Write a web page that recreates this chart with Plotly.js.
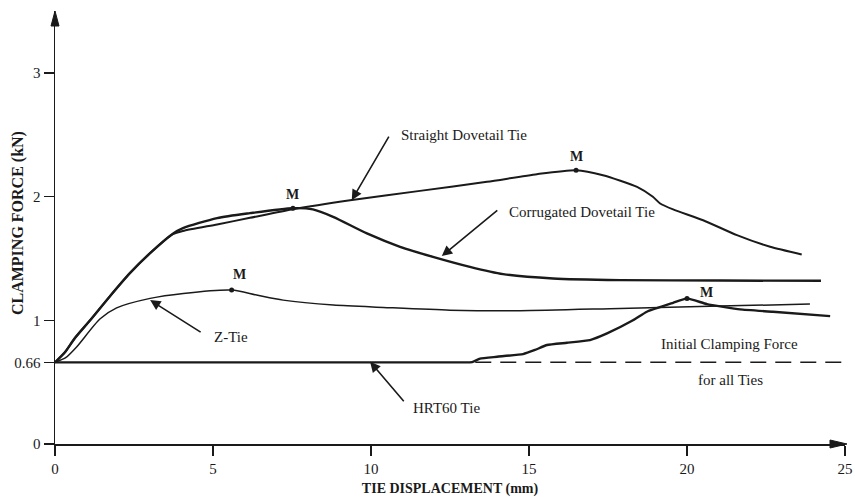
<!DOCTYPE html>
<html>
<head>
<meta charset="utf-8">
<script src="https://cdn.plot.ly/plotly-3.0.1.min.js"></script>
<style>
  html, body { margin: 0; padding: 0; background: #fff; }
  #chart { width: 855px; height: 497px; }
</style>
</head>
<body>
<div id="chart"></div>
<script>
// Clamping force (kN) against tie displacement (mm) for four tie types.
const xTickVals = [0, 5, 10, 15, 20, 25];
const yTickVals = [0, 0.66, 1, 2, 3];
const yTickText = ['0', '0.66', '1', '2', '3'];

const straightX = [0, 0.32, 0.63, 1.11, 1.74, 2.37, 3.01, 3.73, 4.05, 5.13, 6.17, 7.53, 9.34, 11.55, 13.67, 15.25, 16.49, 17.34, 18.42, 18.92, 19.15, 19.56, 20.51, 21.58, 22.63, 23.63];
const straightY = [0.66, 0.743, 0.856, 1.00, 1.195, 1.381, 1.543, 1.696, 1.722, 1.775, 1.828, 1.898, 1.971, 2.046, 2.119, 2.181, 2.213, 2.173, 2.078, 1.998, 1.944, 1.896, 1.809, 1.688, 1.594, 1.532];

const corrugatedX = [0, 0.32, 0.63, 1.11, 1.74, 2.37, 3.01, 3.73, 4.05, 5.13, 6.17, 7.53, 8.16, 8.80, 9.87, 10.92, 11.96, 13.13, 14.18, 15.76, 17.88, 21.04, 24.24];
const corrugatedY = [0.66, 0.743, 0.856, 1.00, 1.195, 1.381, 1.543, 1.700, 1.745, 1.826, 1.866, 1.906, 1.896, 1.836, 1.702, 1.594, 1.513, 1.432, 1.373, 1.338, 1.325, 1.321, 1.319];

const zTieX = [0, 0.35, 0.69, 1.42, 1.95, 3.01, 4.06, 5.59, 6.38, 7.22, 8.81, 10.39, 12.5, 14.72, 17.88, 21.04, 23.89];
const zTieY = [0.66, 0.70, 0.786, 1.010, 1.100, 1.177, 1.217, 1.244, 1.204, 1.163, 1.123, 1.104, 1.082, 1.077, 1.096, 1.115, 1.131];

const hrtX = [0, 6.5, 12.9, 13.2, 13.45, 13.99, 14.81, 15.19, 15.57, 16.20, 16.93, 17.47, 18.29, 18.73, 19.56, 20.0, 20.63, 21.68, 22.72, 24.53];
const hrtY = [0.66, 0.66, 0.66, 0.662, 0.69, 0.705, 0.727, 0.76, 0.80, 0.818, 0.84, 0.894, 1.0, 1.069, 1.141, 1.177, 1.131, 1.088, 1.069, 1.034];

const initialX = [13.3, 25.2];
const initialY = [0.66, 0.66];

// Maximum ("M") points on each curve
const peakX = [7.53, 16.49, 5.59, 20.0];
const peakY = [1.906, 2.213, 1.244, 1.177];
const peakShiftX = [0, 0, 8, 19];
const peakShiftY = [14, 14, 16, 6];

const ink = '#1a1a1a';
const serif = "'Liberation Serif', 'Times New Roman', serif";

function curve(x, y, w, smooth) {
  return {
    x: x, y: y, type: 'scatter', mode: 'lines',
    line: { color: ink, width: w, shape: 'spline', smoothing: smooth },
    hoverinfo: 'skip', showlegend: false
  };
}

const traces = [
  curve(hrtX, hrtY, 2.4, 0.4),
  curve(zTieX, zTieY, 1.5, 0.7),
  curve(corrugatedX, corrugatedY, 2.4, 0.7),
  curve(straightX, straightY, 2, 0.6),
  {
    x: initialX, y: initialY, type: 'scatter', mode: 'lines',
    line: { color: ink, width: 1.5, dash: '16px,9px' },
    cliponaxis: false, hoverinfo: 'skip', showlegend: false
  },
  {
    x: peakX, y: peakY, type: 'scatter', mode: 'markers',
    marker: { color: ink, size: 5 },
    hoverinfo: 'skip', showlegend: false
  }
];

const annotations = [];

// "M" labels at the peak points
peakX.forEach(function (px, i) {
  annotations.push({
    x: px, y: peakY[i], xref: 'x', yref: 'y', text: 'M', showarrow: false,
    xshift: peakShiftX[i], yshift: peakShiftY[i],
    font: { family: serif, size: 14, color: ink, weight: 'bold' }
  });
});

// Curve names with pointer arrows
function label(text, x, y, anchor) {
  annotations.push({
    x: x, y: y, xref: 'x', yref: 'y', text: text, showarrow: false,
    xanchor: anchor, yanchor: 'middle',
    font: { family: serif, size: 15, color: ink }
  });
}
function pointer(x, y, ax, ay) {
  annotations.push({
    x: x, y: y, xref: 'x', yref: 'y', text: '', showarrow: true,
    ax: ax, ay: ay, arrowhead: 2, arrowsize: 1.3, arrowwidth: 1.6,
    arrowcolor: ink, standoff: 0
  });
}

label('Straight Dovetail Tie', 10.89, 2.496, 'left');
pointer(9.39, 1.971, 38, -65);
label('Corrugated Dovetail Tie', 14.30, 1.876, 'left');
pointer(12.24, 1.519, 57, -47);
label('Z-Tie', 4.97, 0.864, 'left');
pointer(3.01, 1.163, 52, 33);
label('HRT60 Tie', 11.27, 0.291, 'left');
pointer(9.97, 0.665, 35, 41);
label('Initial Clamping Force', 21.36, 0.808, 'center');
label('for all Ties', 21.39, 0.517, 'center');

// Vertical axis title
annotations.push({
  xref: 'paper', yref: 'paper', x: -0.047, y: 0.51, xanchor: 'center', yanchor: 'middle',
  text: 'CLAMPING FORCE (kN)', textangle: -90, showarrow: false,
  font: { family: serif, size: 16, color: ink, weight: 'bold' }
});

const layout = {
  width: 855, height: 497,
  margin: { l: 55, r: 10, t: 11, b: 53 },
  paper_bgcolor: '#fff', plot_bgcolor: '#fff',
  font: { family: serif, color: ink },
  xaxis: {
    range: [0, 25], tickvals: xTickVals, ticks: 'outside', ticklen: 10, tickwidth: 1.5,
    tickcolor: ink, showline: true, linecolor: ink, linewidth: 1.5,
    showgrid: false, zeroline: false,
    tickfont: { family: serif, size: 15, color: ink },
    title: { text: 'TIE DISPLACEMENT (mm)', standoff: 10,
             font: { family: serif, size: 14, color: ink, weight: 'bold' } }
  },
  yaxis: {
    range: [0, 3.5], tickvals: yTickVals, ticktext: yTickText, ticks: 'outside',
    ticklen: 10, tickwidth: 1.5, tickcolor: ink, showline: true, linecolor: ink,
    linewidth: 1.5, showgrid: false, zeroline: false,
    tickfont: { family: serif, size: 15, color: ink }
  },
  shapes: [
    // arrowheads at the ends of both axes
    { type: 'path', xref: 'x domain', yref: 'y domain', xsizemode: 'pixel', ysizemode: 'pixel',
      xanchor: 1, yanchor: 0, path: 'M 2 0 L -15 4 L -15 -4 Z',
      fillcolor: ink, line: { color: ink, width: 1 } },
    { type: 'path', xref: 'x domain', yref: 'y domain', xsizemode: 'pixel', ysizemode: 'pixel',
      xanchor: 0, yanchor: 1, path: 'M 0 0 L -4 -15 L 4 -15 Z',
      fillcolor: ink, line: { color: ink, width: 1 } }
  ],
  annotations: annotations,
  showlegend: false
};

Plotly.newPlot('chart', traces, layout, { staticPlot: true, displayModeBar: false });
</script>
</body>
</html>
